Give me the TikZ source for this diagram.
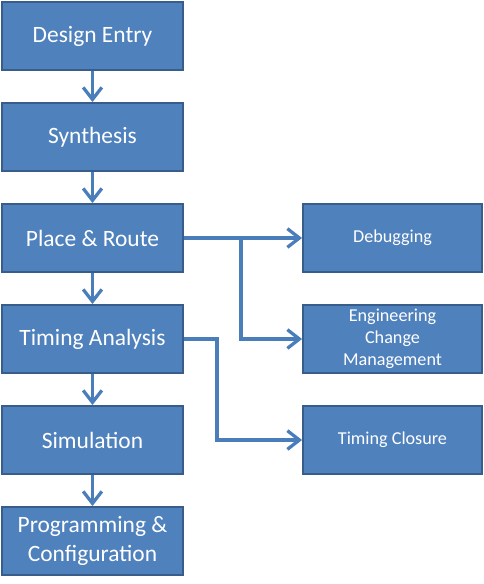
\documentclass[tikz,border=0pt]{standalone}
\usepackage{fontspec}
\setmainfont{Carlito}
\usetikzlibrary{arrows.meta}
\definecolor{boxfill}{HTML}{4F81BD}
\definecolor{boxline}{HTML}{385D8A}
\definecolor{arrowblue}{HTML}{4A7EBB}
\begin{document}
\begin{tikzpicture}[
  flow/.style={draw=boxline,fill=boxfill,line width=1.6pt,minimum width=5.43cm,
    minimum height=2.04cm,inner sep=0pt,align=center,text=white,
    font=\fontsize{20}{24}\selectfont},
  side/.style={draw=boxline,fill=boxfill,line width=1.6pt,minimum width=5.37cm,
    minimum height=2.04cm,inner sep=0pt,align=center,text=white,
    font=\fontsize{15.5}{18.7}\selectfont},
  a/.style={-{Straight Barb[length=3.6mm,width=5.6mm,line width=2.8pt]},line width=2.8pt,arrowblue}]
\useasboundingbox (0,0) rectangle (14.52,-17.52);
\node[flow] (de) at (2.775,-1.08) {Design Entry};
\node[flow] (syn) at (2.775,-4.11) {Synthesis};
\node[flow] (pr) at (2.775,-7.14) {Place \& Route};
\node[flow] (ta) at (2.775,-10.17) {Timing Analysis};
\node[flow] (sim) at (2.775,-13.20) {Simulation};
\node[flow] (pc) at (2.775,-16.23) {Programming \&\\Configuration};
\node[side] (dbg) at (11.775,-7.14) {Debugging};
\node[side] (ecm) at (11.775,-10.17) {Engineering\\Change\\Management};
\node[side] (tc) at (11.775,-13.20) {Timing Closure};
\draw[a] (de)--(syn); \draw[a] (syn)--(pr); \draw[a] (pr)--(ta);
\draw[a] (ta)--(sim); \draw[a] (sim)--(pc);
% branches to the right
\coordinate (b1) at (7.23,-7.14);
\coordinate (b2) at (6.51,-10.17);
\draw[a] (pr.east)--(dbg.west);
\draw[a] (b1) |- (ecm.west);
\draw[a] (ta.east)--(b2) |- (tc.west);
\end{tikzpicture}
\end{document}
